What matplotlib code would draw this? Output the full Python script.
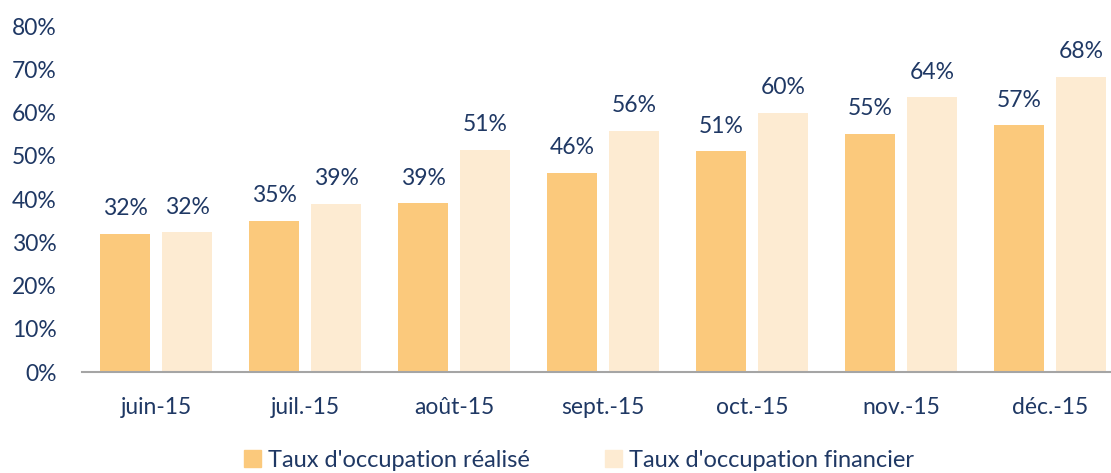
import matplotlib
matplotlib.use("Agg")
import matplotlib.pyplot as plt
from matplotlib.patches import Patch
import numpy as np

categories = ["juin-15", "juil.-15", "août-15", "sept.-15", "oct.-15", "nov.-15", "déc.-15"]
realise = [32, 35, 39, 46, 51, 55, 57]
financier = [32.3, 38.8, 51.3, 55.7, 60, 63.5, 68.2]
labels_realise = ["32%", "35%", "39%", "46%", "51%", "55%", "57%"]
labels_financier = ["32%", "39%", "51%", "56%", "60%", "64%", "68%"]
yticks = [0, 10, 20, 30, 40, 50, 60, 70, 80]

c_real = "#FBC97C"
c_fin = "#FDEBD2"
txt = "#1F3864"

plt.rcParams["font.family"] = ["Lato", "DejaVu Sans"]

W, H = 1111, 473
fig = plt.figure(figsize=(W / 100, H / 100), dpi=100)
left = 81.5 / W
bottom = (H - 372) / H
height = (372 - 26) / H
width = 7 * 149 / W
ax = fig.add_axes([left, bottom, width, height])

x = np.arange(len(categories))
bw = 50 / 149
off = 31 / 149
b1 = ax.bar(x - off, realise, bw, color=c_real, label="Taux d'occupation réalisé")
b2 = ax.bar(x + off, financier, bw, color=c_fin, label="Taux d'occupation financier")

for bars, labs in ((b1, labels_realise), (b2, labels_financier)):
    for r, lab in zip(bars, labs):
        ax.annotate(lab, (r.get_x() + r.get_width() / 2, r.get_height()),
                    xytext=(0, 13.5), textcoords="offset points",
                    ha="center", va="baseline", fontsize=16.5, color=txt)

ax.set_xlim(-0.5, len(categories) - 0.5)
ax.set_ylim(0, 80)
ax.set_yticks(yticks)
ax.set_yticklabels([f"{v}%" for v in yticks])
ax.set_xticks(x)
ax.set_xticklabels(categories)
ax.tick_params(axis="both", length=0, labelsize=16.5, labelcolor=txt)
ax.tick_params(axis="y", pad=18)
ax.tick_params(axis="x", pad=18)
for s in ("top", "right", "left"):
    ax.spines[s].set_visible(False)
ax.spines["bottom"].set_color("#A5A5A5")
ax.spines["bottom"].set_linewidth(1.5)

handles = [Patch(color=c_real), Patch(color=c_fin)]
fig.legend(handles, ["Taux d'occupation réalisé", "Taux d'occupation financier"],
           loc="center", bbox_to_anchor=(579 / W, 1 - 460 / H), ncol=2, frameon=False,
           fontsize=17, labelcolor=txt, handlelength=0.7, handleheight=0.7,
           handletextpad=0.3, columnspacing=3.2)

fig.savefig("out.png", dpi=100)
